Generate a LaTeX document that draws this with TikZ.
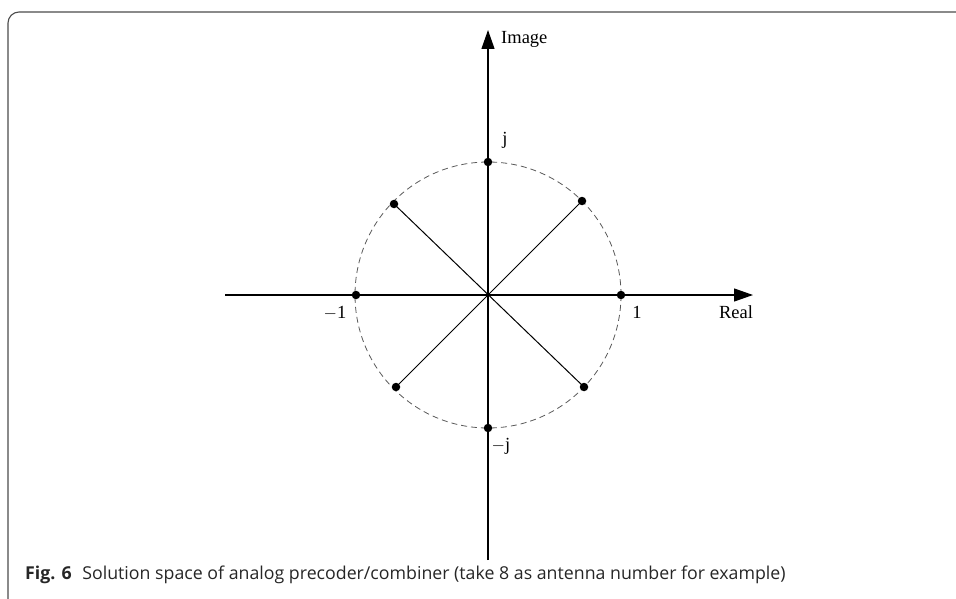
\documentclass[tikz,border=0pt]{standalone}
\usepackage{fontspec}
\setmainfont{Liberation Serif}
\newfontfamily\capfont{Open Sans}
\usetikzlibrary{arrows.meta}
\begin{document}
\begin{tikzpicture}[x=1pt,y=-1pt,
  axis/.style={line width=1.2pt,-{Triangle[length=19pt,width=13pt]}},
  spoke/.style={line width=1pt},
  dotpt/.style={circle,fill=black,inner sep=0pt,minimum size=8.5pt},
  lbl/.style={font=\fontsize{18.5}{20}\selectfont,inner sep=1pt},
  frame/.style={draw=black!70,line width=1.1pt}]
\useasboundingbox (0,0) rectangle (956,599);
\draw[frame,rounded corners=11pt] (8,604) -- (8,12) -- (962,12);
% centre and axis ends
\coordinate (O) at (488,295);
\coordinate (xl) at (225,295);
\coordinate (xr) at (753,295);
\coordinate (yb) at (488,560);
\coordinate (yt) at (488,30);
\draw[dashed,dash pattern=on 6pt off 4pt,draw=black!65,line width=0.8pt] (O) circle[radius=133];
\draw[axis] (xl) -- (xr);
\draw[axis] (yb) -- (yt);
% points
\node[dotpt] (p0) at (621,295) {};
\node[dotpt] (p1) at (582,201) {};
\node[dotpt] (p2) at (488,162) {};
\node[dotpt] (p3) at (394,204) {};
\node[dotpt] (p4) at (356,295) {};
\node[dotpt] (p5) at (396,387) {};
\node[dotpt] (p6) at (488,428) {};
\node[dotpt] (p7) at (584,387) {};
\draw[spoke] (p1.center) -- (p5.center);
\draw[spoke] (p3.center) -- (p7.center);
% labels
\node[lbl,anchor=west] (limg) at (500,39) {Image};
\node[lbl] (lreal) at (736,312) {Real};
\node[lbl] (lj) at (505,140) {j};
\node[lbl] (l1) at (637,312) {1};
\node[lbl] (lm1) at (335,313) {$-$1};
\node[lbl] (lmj) at (501,446) {$-$j};
\node[anchor=base west,inner sep=0pt,text=black!85] (cap) at (25,579)
  {\capfont\fontsize{17.75}{20}\selectfont\textbf{Fig. 6}\hspace{0.6em}Solution space of analog precoder/combiner (take 8 as antenna number for example)};
\end{tikzpicture}
\end{document}
